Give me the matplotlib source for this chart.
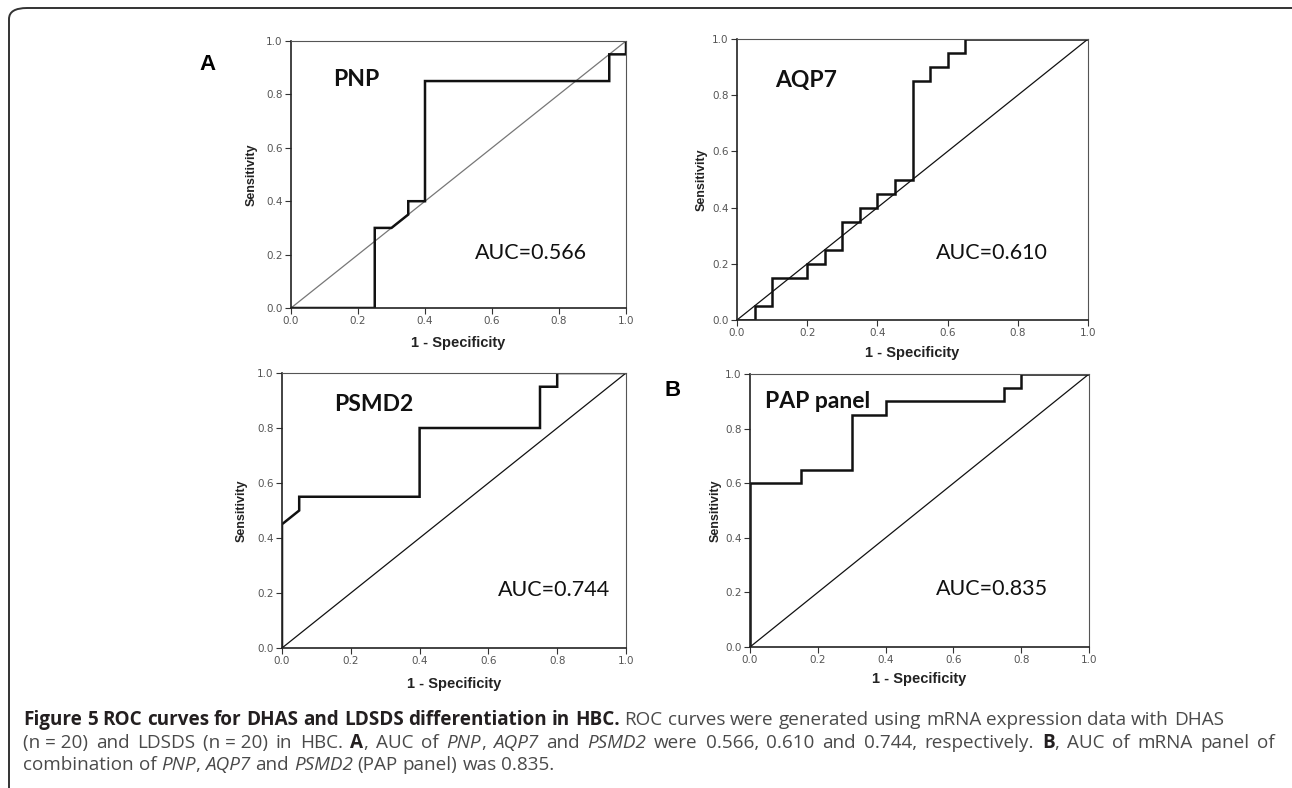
import matplotlib
matplotlib.use("Agg")
import matplotlib.pyplot as plt
from matplotlib.patches import FancyBboxPatch

W, H = 1292, 788

# ROC curve vertices (1 - specificity, sensitivity)
pnp_fpr = [0.0, 0.25, 0.25, 0.30, 0.35, 0.35, 0.40, 0.40, 0.95, 0.95, 1.00, 1.00]
pnp_tpr = [0.0, 0.00, 0.30, 0.30, 0.35, 0.40, 0.40, 0.85, 0.85, 0.95, 0.95, 1.00]

aqp7_fpr = [0.0, 0.05, 0.05, 0.10, 0.10, 0.20, 0.20, 0.25, 0.25, 0.30, 0.30, 0.35, 0.35,
            0.40, 0.40, 0.45, 0.45, 0.50, 0.50, 0.55, 0.55, 0.60, 0.60, 0.65, 0.65, 1.00]
aqp7_tpr = [0.0, 0.00, 0.05, 0.05, 0.15, 0.15, 0.20, 0.20, 0.25, 0.25, 0.35, 0.35, 0.40,
            0.40, 0.45, 0.45, 0.50, 0.50, 0.85, 0.85, 0.90, 0.90, 0.95, 0.95, 1.00, 1.00]

psmd2_fpr = [0.0, 0.0, 0.05, 0.05, 0.40, 0.40, 0.75, 0.75, 0.80, 0.80, 1.00]
psmd2_tpr = [0.0, 0.45, 0.50, 0.55, 0.55, 0.80, 0.80, 0.95, 0.95, 1.00, 1.00]

pap_fpr = [0.0, 0.0, 0.15, 0.15, 0.30, 0.30, 0.40, 0.40, 0.75, 0.75, 0.80, 0.80, 1.00]
pap_tpr = [0.0, 0.60, 0.60, 0.65, 0.65, 0.85, 0.85, 0.90, 0.90, 0.95, 0.95, 1.00, 1.00]

names = ["PNP", "AQP7", "PSMD2", "PAP panel"]
aucs = ["0.566", "0.610", "0.744", "0.835"]
ticks = [0.0, 0.2, 0.4, 0.6, 0.8, 1.0]
tick_labels = ["0.0", "0.2", "0.4", "0.6", "0.8", "1.0"]

fig = plt.figure(figsize=(W / 100, H / 100), dpi=100)
fig.patch.set_facecolor("white")


def px_axes(x0, y0, x1, y1):
    return fig.add_axes([x0 / W, 1 - y1 / H, (x1 - x0) / W, (y1 - y0) / H])


# rounded frame around the figure (right and bottom run off the page)
frame = FancyBboxPatch((9 / W, -20 / H), (1320 - 9) / W, (H - 8 + 20) / H,
                       boxstyle="round,pad=0,rounding_size=0.014",
                       transform=fig.transFigure, fill=False,
                       edgecolor="#333333", linewidth=1.4, clip_on=False)
fig.patches.append(frame)

panels = [
    # box px, title pos, auc pos, xlabel offset, ylabel offset, diag colour
    ((291, 41, 626, 308), (0.125, 0.854), (0.549, 0.206), -0.105, -0.099, "#777777", pnp_fpr, pnp_tpr),
    ((737, 39, 1088, 320), (0.108, 0.854), (0.567, 0.238), -0.093, -0.083, "#111111", aqp7_fpr, aqp7_tpr),
    ((282, 373, 626, 648), (0.151, 0.887), (0.628, 0.211), -0.105, -0.099, "#111111", psmd2_fpr, psmd2_tpr),
    ((750, 374, 1089, 647), (0.044, 0.901), (0.549, 0.212), -0.092, -0.083, "#111111", pap_fpr, pap_tpr),
]

for i, (box, tpos, apos, xlo, ylo, dcol, fx, fy) in enumerate(panels):
    ax = px_axes(*box)
    ax.plot([0, 1], [0, 1], color=dcol, lw=0.9, solid_capstyle="butt")
    ax.plot(fx, fy, color="#111111", lw=1.8, solid_joinstyle="miter")
    ax.set_xlim(0, 1)
    ax.set_ylim(0, 1)
    ax.set_xticks(ticks)
    ax.set_yticks(ticks)
    ax.set_xticklabels(tick_labels)
    ax.set_yticklabels(tick_labels)
    ax.tick_params(direction="out", length=4.5, width=0.8, pad=1.5,
                   labelsize=7.5, labelcolor="#555555", color="#333333")
    for s in ["left", "bottom"]:
        ax.spines[s].set_linewidth(1.2)
        ax.spines[s].set_color("#222222")
    for s in ["top", "right"]:
        ax.spines[s].set_linewidth(0.8)
        ax.spines[s].set_color("#555555")
    ax.set_xlabel("1 - Specificity", fontsize=10.5, fontweight="bold",
                  family="Liberation Sans", color="#222222")
    ax.set_ylabel("Sensitivity", fontsize=9, fontweight="bold",
                  family="Liberation Sans", color="#222222")
    ax.xaxis.set_label_coords(0.5, xlo)
    ax.yaxis.set_label_coords(ylo, 0.5)
    ax.text(tpos[0], tpos[1], names[i], transform=ax.transAxes, fontsize=16.5,
            fontweight="bold", family="Lato", ha="left", va="center", color="#111111")
    ax.text(apos[0], apos[1], "AUC=" + aucs[i], transform=ax.transAxes, fontsize=15.5,
            family="Lato", ha="left", va="center", color="#111111")

fig.text(207 / W, 1 - 65 / H, "A", fontsize=16, fontweight="bold",
         family="Liberation Sans", ha="center", va="center")
fig.text(673 / W, 1 - 391 / H, "B", fontsize=16, fontweight="bold",
         family="Liberation Sans", ha="center", va="center")

# caption with mixed styles
NB = "\u00a0"
line1 = [("Figure 5 ROC curves for DHAS and LDSDS differentiation in HBC.", "b"),
         (" ROC curves were generated using mRNA expression data with DHAS", "r")]
line2 = [("(n" + NB + "=" + NB + "20) and LDSDS (n" + NB + "=" + NB + "20) in HBC. ", "r"), ("A", "b"),
         (", AUC of ", "r"), ("PNP", "i"), (", ", "r"), ("AQP7", "i"), (" and ", "r"),
         ("PSMD2", "i"), (" were 0.566, 0.610 and 0.744, respectively. ", "r"), ("B", "b"),
         (", AUC of mRNA panel of", "r")]
line3 = [("combination of ", "r"), ("PNP", "i"), (", ", "r"), ("AQP7", "i"), (" and ", "r"),
         ("PSMD2", "i"), (" (PAP panel) was 0.835.", "r")]

styles = {
    "r": dict(family="Open Sans", color="#4a4a4a"),
    "b": dict(family="Open Sans", fontweight="bold", color="#231f20"),
    "i": dict(family="Open Sans", style="italic", color="#4a4a4a"),
}

renderer = fig.canvas.get_renderer()


def measure(txt, st, size):
    t = fig.text(0, 0, txt, fontsize=size, **styles[st])
    w = t.get_window_extent(renderer).width
    t.remove()
    return w


def split_words(runs):
    words = [[]]
    for txt, st in runs:
        parts = txt.split(" ")
        for k, p in enumerate(parts):
            if k > 0:
                words.append([])
            if p:
                words[-1].append((p, st))
    return [w for w in words if w]


def natural_width(runs, size):
    words = split_words(runs)
    sp = measure("a a", "r", size) - measure("aa", "r", size)
    tot = sum(measure(s, st, size) for w in words for s, st in w)
    return tot + sp * (len(words) - 1)


# fit the caption size to the first line's width
size = 10.0 * (1223 - 24) / natural_width(line1, 10.0)


def draw_line(runs, x0, base, target=None):
    words = split_words(runs)
    sp = measure("a a", "r", size) - measure("aa", "r", size)
    widths = [[measure(s, st, size) for s, st in w] for w in words]
    total = sum(sum(w) for w in widths) + sp * (len(words) - 1)
    gap = sp
    if target is not None and len(words) > 1:
        gap = sp + (target - x0 - total) / (len(words) - 1)
    x = x0
    for w, ws in zip(words, widths):
        for (s, st), sw in zip(w, ws):
            fig.text(x / W, 1 - base / H, s, fontsize=size, va="baseline", ha="left", **styles[st])
            x += sw
        x += gap


draw_line(line1, 23, 725)
draw_line(line2, 23, 748, target=1275)
draw_line(line3, 23, 770)

fig.savefig("out.png", dpi=100)
